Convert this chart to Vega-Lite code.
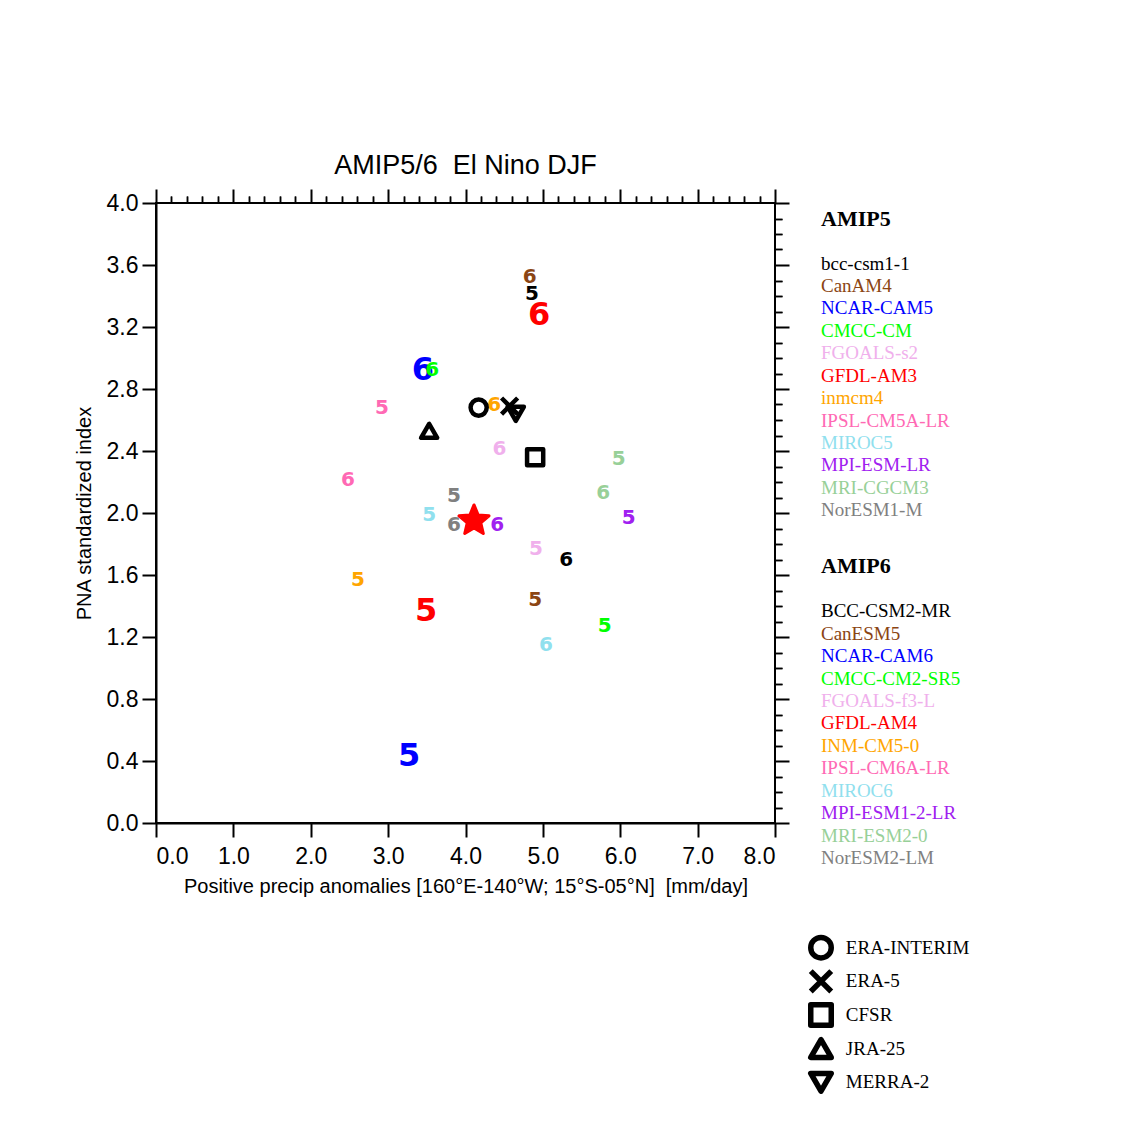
{
  "$schema": "https://vega.github.io/schema/vega-lite/v6.json",
  "background": "white",
  "padding": {"left": 73, "top": 151, "right": 5, "bottom": 5},
  "config": {"view": {"stroke": null}},
  "datasets": {
    "models": [
      {"model": "bcc-csm1-1", "mip": "5", "slot": 1, "x": 4.86, "y": 3.41},
      {"model": "CanAM4", "mip": "5", "slot": 2, "x": 4.90, "y": 1.44},
      {"model": "NCAR-CAM5", "mip": "5", "slot": 3, "x": 3.27, "y": 0.43},
      {"model": "CMCC-CM", "mip": "5", "slot": 4, "x": 5.80, "y": 1.27},
      {"model": "FGOALS-s2", "mip": "5", "slot": 5, "x": 4.91, "y": 1.77},
      {"model": "GFDL-AM3", "mip": "5", "slot": 6, "x": 3.49, "y": 1.37},
      {"model": "inmcm4", "mip": "5", "slot": 7, "x": 2.61, "y": 1.57},
      {"model": "IPSL-CM5A-LR", "mip": "5", "slot": 8, "x": 2.92, "y": 2.68},
      {"model": "MIROC5", "mip": "5", "slot": 9, "x": 3.53, "y": 1.99},
      {"model": "MPI-ESM-LR", "mip": "5", "slot": 10, "x": 6.11, "y": 1.97},
      {"model": "MRI-CGCM3", "mip": "5", "slot": 11, "x": 5.98, "y": 2.35},
      {"model": "NorESM1-M", "mip": "5", "slot": 12, "x": 3.85, "y": 2.11},
      {"model": "BCC-CSM2-MR", "mip": "6", "slot": 1, "x": 5.30, "y": 1.70},
      {"model": "CanESM5", "mip": "6", "slot": 2, "x": 4.83, "y": 3.52},
      {"model": "NCAR-CAM6", "mip": "6", "slot": 3, "x": 3.45, "y": 2.92},
      {"model": "CMCC-CM2-SR5", "mip": "6", "slot": 4, "x": 3.57, "y": 2.92},
      {"model": "FGOALS-f3-L", "mip": "6", "slot": 5, "x": 4.44, "y": 2.41},
      {"model": "GFDL-AM4", "mip": "6", "slot": 6, "x": 4.95, "y": 3.28},
      {"model": "INM-CM5-0", "mip": "6", "slot": 7, "x": 4.37, "y": 2.70},
      {"model": "IPSL-CM6A-LR", "mip": "6", "slot": 8, "x": 2.48, "y": 2.21},
      {"model": "MIROC6", "mip": "6", "slot": 9, "x": 5.04, "y": 1.15},
      {"model": "MPI-ESM1-2-LR", "mip": "6", "slot": 10, "x": 4.41, "y": 1.92},
      {"model": "MRI-ESM2-0", "mip": "6", "slot": 11, "x": 5.78, "y": 2.13},
      {"model": "NorESM2-LM", "mip": "6", "slot": 12, "x": 3.85, "y": 1.92}
    ],
    "obs": [
      {"name": "ERA-INTERIM", "x": 4.17, "y": 2.68, "row": 32.5},
      {"name": "ERA-5", "x": 4.57, "y": 2.69, "row": 34},
      {"name": "CFSR", "x": 4.90, "y": 2.36, "row": 35.5},
      {"name": "JRA-25", "x": 3.53, "y": 2.53, "row": 37},
      {"name": "MERRA-2", "x": 4.65, "y": 2.64, "row": 38.5}
    ],
    "newmodel": [
      {"name": "NEW MODEL", "x": 4.11, "y": 1.95, "row": 41.5}
    ],
    "headers": [
      {"label": "AMIP5", "row": 0},
      {"label": "AMIP6", "row": 15.5}
    ],
    "legendrows": [
      {"model": "bcc-csm1-1", "slot": 1, "row": 2},
      {"model": "CanAM4", "slot": 2, "row": 3},
      {"model": "NCAR-CAM5", "slot": 3, "row": 4},
      {"model": "CMCC-CM", "slot": 4, "row": 5},
      {"model": "FGOALS-s2", "slot": 5, "row": 6},
      {"model": "GFDL-AM3", "slot": 6, "row": 7},
      {"model": "inmcm4", "slot": 7, "row": 8},
      {"model": "IPSL-CM5A-LR", "slot": 8, "row": 9},
      {"model": "MIROC5", "slot": 9, "row": 10},
      {"model": "MPI-ESM-LR", "slot": 10, "row": 11},
      {"model": "MRI-CGCM3", "slot": 11, "row": 12},
      {"model": "NorESM1-M", "slot": 12, "row": 13},
      {"model": "BCC-CSM2-MR", "slot": 1, "row": 17.5},
      {"model": "CanESM5", "slot": 2, "row": 18.5},
      {"model": "NCAR-CAM6", "slot": 3, "row": 19.5},
      {"model": "CMCC-CM2-SR5", "slot": 4, "row": 20.5},
      {"model": "FGOALS-f3-L", "slot": 5, "row": 21.5},
      {"model": "GFDL-AM4", "slot": 6, "row": 22.5},
      {"model": "INM-CM5-0", "slot": 7, "row": 23.5},
      {"model": "IPSL-CM6A-LR", "slot": 8, "row": 24.5},
      {"model": "MIROC6", "slot": 9, "row": 25.5},
      {"model": "MPI-ESM1-2-LR", "slot": 10, "row": 26.5},
      {"model": "MRI-ESM2-0", "slot": 11, "row": 27.5},
      {"model": "NorESM2-LM", "slot": 12, "row": 28.5}
    ]
  },
  "hconcat": [
    {
      "width": 619,
      "height": 620,
      "view": {"stroke": "black", "strokeWidth": 2},
      "title": {"text": "AMIP5/6\u00a0\u00a0El Nino DJF", "font": "Liberation Sans", "fontSize": 27, "fontWeight": "normal", "offset": 8},
      "resolve": {"axis": {"x": "independent", "y": "independent"}},
      "layer": [
        {
          "data": {"name": "models"},
          "mark": {"type": "text", "font": "DejaVu Sans", "fontWeight": "bold", "baseline": "middle", "align": "center"},
          "encoding": {
            "x": {"field": "x", "type": "quantitative", "scale": {"domain": [0, 8], "nice": false, "zero": false},
              "axis": {"values": [0, 1, 2, 3, 4, 5, 6, 7, 8], "format": ".1f", "grid": false, "tickSize": 14, "tickWidth": 2, "domainWidth": 2, "domainColor": "black", "tickColor": "black",
                "labelFont": "Liberation Sans", "labelFontSize": 23, "labelColor": "black", "labelPadding": 8,
                "title": "Positive precip anomalies [160°E-140°W; 15°S-05°N]\u00a0\u00a0[mm/day]", "titleFont": "Liberation Sans", "titleFontSize": 20, "titleFontWeight": "normal", "titleColor": "black", "titlePadding": 8}},
            "y": {"field": "y", "type": "quantitative", "scale": {"domain": [0, 4], "nice": false, "zero": false},
              "axis": {"values": [0, 0.4, 0.8, 1.2, 1.6, 2.0, 2.4, 2.8, 3.2, 3.6, 4.0], "format": ".1f", "grid": false, "tickSize": 14, "tickWidth": 2, "domainWidth": 2, "domainColor": "black", "tickColor": "black",
                "labelFont": "Liberation Sans", "labelFontSize": 23, "labelColor": "black", "labelPadding": 4,
                "title": "PNA standardized index", "titleFont": "Liberation Sans", "titleFontSize": 20, "titleFontWeight": "normal", "titleColor": "black", "titlePadding": 12}},
            "text": {"field": "mip"},
            "color": {"field": "slot", "type": "nominal", "legend": null,
              "scale": {"domain": [1, 2, 3, 4, 5, 6, 7, 8, 9, 10, 11, 12],
                "range": ["#000000", "#8B4513", "#0000FF", "#00FF00", "#F0B0EC", "#FF0000", "#FFA500", "#FF69B4", "#90E0EE", "#A020F0", "#98D098", "#808080"]}},
            "size": {"condition": {"test": "datum.slot == 3 || datum.slot == 6", "value": 32}, "value": 20}
          }
        },
        {
          "data": {"name": "obs"},
          "mark": {"type": "point", "filled": false, "strokeWidth": 4.5, "color": "black", "opacity": 1, "size": 260, "strokeJoin": "round"},
          "encoding": {
            "x": {"field": "x", "type": "quantitative", "axis": {"values": [0.2, 0.4, 0.6, 0.8, 1.2, 1.4, 1.6, 1.8, 2.2, 2.4, 2.6, 2.8, 3.2, 3.4, 3.6, 3.8, 4.2, 4.4, 4.6, 4.8, 5.2, 5.4, 5.6, 5.8, 6.2, 6.4, 6.6, 6.8, 7.2, 7.4, 7.6, 7.8], "labels": false, "grid": false, "domain": false, "tickSize": 7, "tickWidth": 1.5, "tickColor": "black", "title": null}},
            "y": {"field": "y", "type": "quantitative", "axis": {"values": [0.1, 0.2, 0.3, 0.5, 0.6, 0.7, 0.9, 1.0, 1.1, 1.3, 1.4, 1.5, 1.7, 1.8, 1.9, 2.1, 2.2, 2.3, 2.5, 2.6, 2.7, 2.9, 3.0, 3.1, 3.3, 3.4, 3.5, 3.7, 3.8, 3.9], "labels": false, "grid": false, "domain": false, "tickSize": 7, "tickWidth": 1.5, "tickColor": "black", "title": null}},
            "shape": {"field": "name", "type": "nominal", "legend": null,
              "scale": {"domain": ["ERA-INTERIM", "ERA-5", "CFSR", "JRA-25", "MERRA-2"],
                "range": ["circle", "M-1,-1L1,1M1,-1L-1,1", "square", "triangle-up", "triangle-down"]}}
          }
        },
        {
          "data": {"name": "newmodel"},
          "mark": {"type": "point", "filled": true, "color": "red", "opacity": 1, "size": 1000, "stroke": "red", "strokeWidth": 3, "strokeJoin": "round",
            "shape": "M0,-1L0.265,-0.364L0.951,-0.309L0.428,0.139L0.588,0.809L0,0.45L-0.588,0.809L-0.428,0.139L-0.951,-0.309L-0.265,-0.364Z"},
          "encoding": {
            "x": {"field": "x", "type": "quantitative", "axis": {"orient": "top", "values": [0, 1, 2, 3, 4, 5, 6, 7, 8], "labels": false, "grid": false, "domain": false, "tickSize": 14, "tickWidth": 2, "tickColor": "black", "title": null}},
            "y": {"field": "y", "type": "quantitative", "axis": {"orient": "right", "values": [0, 0.4, 0.8, 1.2, 1.6, 2.0, 2.4, 2.8, 3.2, 3.6, 4.0], "labels": false, "grid": false, "domain": false, "tickSize": 14, "tickWidth": 2, "tickColor": "black", "title": null}}
          }
        },
        {
          "data": {"name": "newmodel"},
          "mark": {"type": "point", "opacity": 0},
          "encoding": {
            "x": {"field": "x", "type": "quantitative", "axis": {"orient": "top", "values": [0.2, 0.4, 0.6, 0.8, 1.2, 1.4, 1.6, 1.8, 2.2, 2.4, 2.6, 2.8, 3.2, 3.4, 3.6, 3.8, 4.2, 4.4, 4.6, 4.8, 5.2, 5.4, 5.6, 5.8, 6.2, 6.4, 6.6, 6.8, 7.2, 7.4, 7.6, 7.8], "labels": false, "grid": false, "domain": false, "tickSize": 7, "tickWidth": 1.5, "tickColor": "black", "title": null}},
            "y": {"field": "y", "type": "quantitative", "axis": {"orient": "right", "values": [0.1, 0.2, 0.3, 0.5, 0.6, 0.7, 0.9, 1.0, 1.1, 1.3, 1.4, 1.5, 1.7, 1.8, 1.9, 2.1, 2.2, 2.3, 2.5, 2.6, 2.7, 2.9, 3.0, 3.1, 3.3, 3.4, 3.5, 3.7, 3.8, 3.9], "labels": false, "grid": false, "domain": false, "tickSize": 7, "tickWidth": 1.5, "tickColor": "black", "title": null}}
          }
        }
      ]
    },
    {
      "width": 220,
      "height": 960,
      "layer": [
        {
          "data": {"name": "headers"},
          "mark": {"type": "text", "align": "left", "baseline": "middle", "font": "Liberation Serif", "fontWeight": "bold", "fontSize": 22, "color": "black"},
          "encoding": {
            "x": {"datum": 0, "type": "quantitative", "scale": {"domain": [0, 10], "nice": false, "zero": false}, "axis": null},
            "y": {"field": "row", "type": "quantitative", "scale": {"domain": [-0.7, 42.1], "reverse": true, "nice": false, "zero": false}, "axis": null},
            "text": {"field": "label"}
          }
        },
        {
          "data": {"name": "legendrows"},
          "mark": {"type": "text", "align": "left", "baseline": "middle", "font": "Liberation Serif", "fontSize": 19},
          "encoding": {
            "x": {"datum": 0, "type": "quantitative"},
            "y": {"field": "row", "type": "quantitative"},
            "text": {"field": "model"},
            "color": {"field": "slot", "type": "nominal", "legend": null,
              "scale": {"domain": [1, 2, 3, 4, 5, 6, 7, 8, 9, 10, 11, 12],
                "range": ["#000000", "#8B4513", "#0000FF", "#00FF00", "#F0B0EC", "#FF0000", "#FFA500", "#FF69B4", "#90E0EE", "#A020F0", "#98D098", "#808080"]}}
          }
        },
        {
          "data": {"name": "obs"},
          "mark": {"type": "point", "filled": false, "strokeWidth": 5.5, "color": "black", "opacity": 1, "size": 420, "strokeJoin": "round"},
          "encoding": {
            "x": {"datum": 0, "type": "quantitative"},
            "y": {"field": "row", "type": "quantitative"},
            "shape": {"field": "name", "type": "nominal", "legend": null,
              "scale": {"domain": ["ERA-INTERIM", "ERA-5", "CFSR", "JRA-25", "MERRA-2"],
                "range": ["circle", "M-1,-1L1,1M1,-1L-1,1", "square", "triangle-up", "triangle-down"]}}
          }
        },
        {
          "data": {"name": "obs"},
          "mark": {"type": "text", "align": "left", "baseline": "middle", "font": "Liberation Serif", "fontSize": 19, "color": "black"},
          "encoding": {
            "x": {"datum": 1.13, "type": "quantitative"},
            "y": {"field": "row", "type": "quantitative"},
            "text": {"field": "name"}
          }
        },
        {
          "data": {"name": "newmodel"},
          "mark": {"type": "point", "filled": true, "color": "red", "opacity": 1, "size": 1100, "stroke": "red", "strokeWidth": 3, "strokeJoin": "round",
            "shape": "M0,-1L0.265,-0.364L0.951,-0.309L0.428,0.139L0.588,0.809L0,0.45L-0.588,0.809L-0.428,0.139L-0.951,-0.309L-0.265,-0.364Z"},
          "encoding": {
            "x": {"datum": 0, "type": "quantitative"},
            "y": {"field": "row", "type": "quantitative"}
          }
        },
        {
          "data": {"name": "newmodel"},
          "mark": {"type": "text", "align": "left", "baseline": "middle", "font": "Liberation Serif", "fontSize": 19, "color": "red"},
          "encoding": {
            "x": {"datum": 1.13, "type": "quantitative"},
            "y": {"field": "row", "type": "quantitative"},
            "text": {"field": "name"}
          }
        }
      ]
    }
  ],
  "spacing": 12
}
